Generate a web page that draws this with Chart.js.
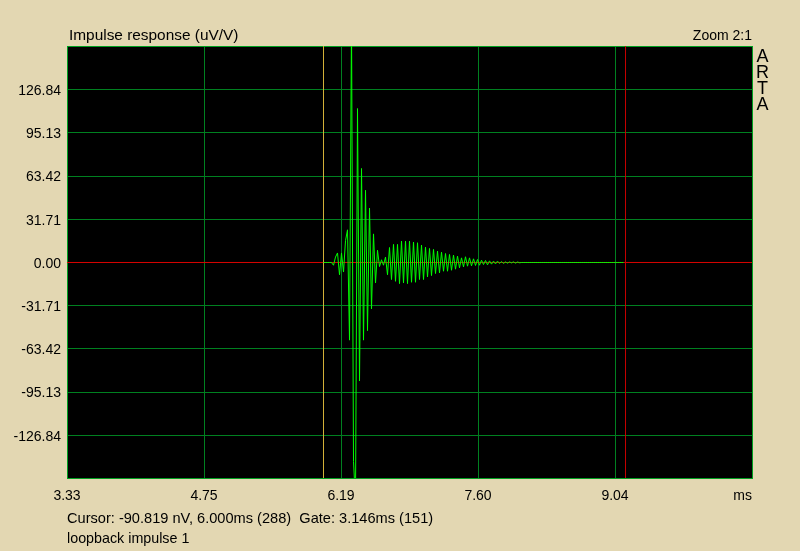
<!DOCTYPE html>
<html>
<head>
<meta charset="utf-8">
<title>Impulse response</title>
<script src="https://cdn.jsdelivr.net/npm/chart.js@4.4.1/dist/chart.umd.min.js"></script>
<style>
  html, body { margin: 0; padding: 0; background: #e3d7b2; }
  #wrap { position: relative; width: 800px; height: 551px; overflow: hidden;
          font-family: "Liberation Sans", Arial, sans-serif; color: #000; }
  #wrap canvas { position: absolute; left: 0; top: 0; }
  .lbl { position: absolute; white-space: pre; }
</style>
</head>
<body>
<div id="wrap">
  <canvas id="graphic" width="800" height="551"></canvas>
  <div class="lbl" style="left:69px; top:27px; font-size:15.4px; line-height:15px;">Impulse response (uV/V)</div>
  <div class="lbl" style="right:48px; top:28px; font-size:14px; line-height:14px;">Zoom 2:1</div>
  <div class="lbl" style="left:752px; top:48px; width:21px; text-align:center; font-size:18px; line-height:16px;">A<br>R<br>T<br>A</div>
  <div class="lbl" style="right:48px; top:488px; font-size:14px; line-height:14px;">ms</div>
  <div class="lbl" style="left:67px; top:511px; font-size:14.6px; line-height:15px;">Cursor: -90.819 nV, 6.000ms (288)  Gate: 3.146ms (151)</div>
  <div class="lbl" style="left:67px; top:531px; font-size:14.3px; line-height:15px;">loopback impulse 1</div>
</div>
<script>
// 48 kHz samples, 2 px per sample on this zoom
const sampleMs = 1 / 48;
const cursorMs = 6.0;
const gateMs = 3.146;

const xTickValues = [3.3281, 4.7552, 6.1823, 7.6094, 9.0365, 10.4635];
const xTickLabels = ['3.33', '4.75', '6.19', '7.60', '9.04', ''];
const yTickValues = [-158.55, -126.84, -95.13, -63.42, -31.71, 0, 31.71, 63.42, 95.13, 126.84, 158.55];
const yTickLabels = ['', '-126.84', '-95.13', '-63.42', '-31.71', '0.00', '31.71', '63.42', '95.13', '126.84', ''];

// impulse samples inside the gate (uV/V)
const impulseUv = [
  0, 0, 0, 0, 0, -2, 4, 7, -9, 7,
  -7, 16, 24, -57, 175, -146, -175, 113, -87, 69,
  -57, 53, -50, 40, -34, 21, -15, 9, -3, 2,
  -2, 4, -9, 11, -12.5, 13.3, -13.8, 13.3, -15.5, 15.7,
  -15, 15.7, -15.5, 15.7, -14.5, 15, -14.5, 14.5, -12.5, 12.8,
  -12.5, 11.3, -10.6, 10.3, -9.6, 9.6, -8.1, 8.4, -7.6, 7.6,
  -6.4, 6.6, -6.4, 5.9, -5.7, 5.4, -4.9, 4.7, -3.9, 3.4,
  -3.2, 4.2, -2.7, 3.4, -2.5, 2.7, -2.2, 2.2, -2.0, 1.7,
  -1.5, 1.5, -1.7, 1.2, -1.2, 1.0, -1.0, 1.0, -0.7, 0.7,
  -0.7, 0.5, -0.5, 0.5, -0.3, 0.5, -0.5, 0.4, -0.2, 0,
  0, 0, 0, 0, 0, 0, 0, 0, 0, 0,
  0, 0, 0, 0, 0, 0, 0, 0, 0, 0,
  0, 0, 0, 0, 0, 0, 0, 0, 0, 0,
  0, 0, 0, 0, 0, 0, 0, 0, 0, 0,
  0, 0, 0, 0, 0, 0, 0, 0, 0, 0,
  0
];

const xMin = xTickValues[0];
const xMax = xTickValues[xTickValues.length - 1];
// half a pixel of headroom so the zero line lands on a whole pixel row
const yPad = 0.367;
const yMin = yTickValues[0] + yPad;
const yMax = yTickValues[yTickValues.length - 1] + yPad;

const trace = impulseUv.map((v, i) => ({ x: cursorMs + i * sampleMs, y: v }));

Chart.defaults.font.family = '"Liberation Sans", Arial, sans-serif';

// black plot area like ARTA
const plotBackground = {
  id: 'plotBackground',
  beforeDraw(chart) {
    const { ctx, chartArea: a } = chart;
    ctx.save();
    ctx.fillStyle = '#000';
    ctx.fillRect(a.left, a.top, a.right - a.left, a.bottom - a.top);
    ctx.restore();
  }
};

const gridColor = (c) => (c.index === 0 || c.index === c.scale.ticks.length - 1) ? '#00a020' : '#008020';

new Chart(document.querySelector('#graphic'), {
  type: 'line',
  data: {
    datasets: [
      { data: trace, borderColor: '#00ff00', borderWidth: 1, clip: 0, order: 0 },
      { data: [{ x: cursorMs, y: yMin }, { x: cursorMs, y: yMax }], borderColor: '#d2b038', borderWidth: 1, order: 1 },
      { data: [{ x: cursorMs + gateMs, y: yMin }, { x: cursorMs + gateMs, y: yMax }], borderColor: '#c80000', borderWidth: 1, order: 1 },
      { data: [{ x: xMin, y: 0 }, { x: xMax, y: 0 }], borderColor: '#d80000', borderWidth: 1, order: 2 }
    ]
  },
  options: {
    responsive: false,
    animation: false,
    events: [],
    layout: { padding: { top: 46, right: 48, left: 0, bottom: 0 } },
    elements: { line: { tension: 0 }, point: { radius: 0 } },
    plugins: { legend: { display: false }, tooltip: { enabled: false } },
    scales: {
      x: {
        type: 'linear', min: xMin, max: xMax,
        afterBuildTicks: s => { s.ticks = xTickValues.map(v => ({ value: v })); },
        afterFit: s => { s.height = 73; },
        ticks: { callback: (v, i) => xTickLabels[i], maxRotation: 0, autoSkip: false, padding: 10, color: '#000', font: { size: 14 } },
        grid: { color: gridColor, drawTicks: false },
        border: { color: '#00a020' }
      },
      y: {
        type: 'linear', min: yMin, max: yMax,
        afterBuildTicks: s => { s.ticks = yTickValues.map(v => ({ value: v })); },
        afterFit: s => { s.width = 67; },
        ticks: { callback: (v, i) => yTickLabels[i], autoSkip: false, padding: 6, labelOffset: 1.5, color: '#000', font: { size: 14 } },
        grid: { color: gridColor, drawTicks: false },
        border: { color: '#00a020' }
      }
    }
  },
  plugins: [plotBackground]
});
</script>
</body>
</html>
